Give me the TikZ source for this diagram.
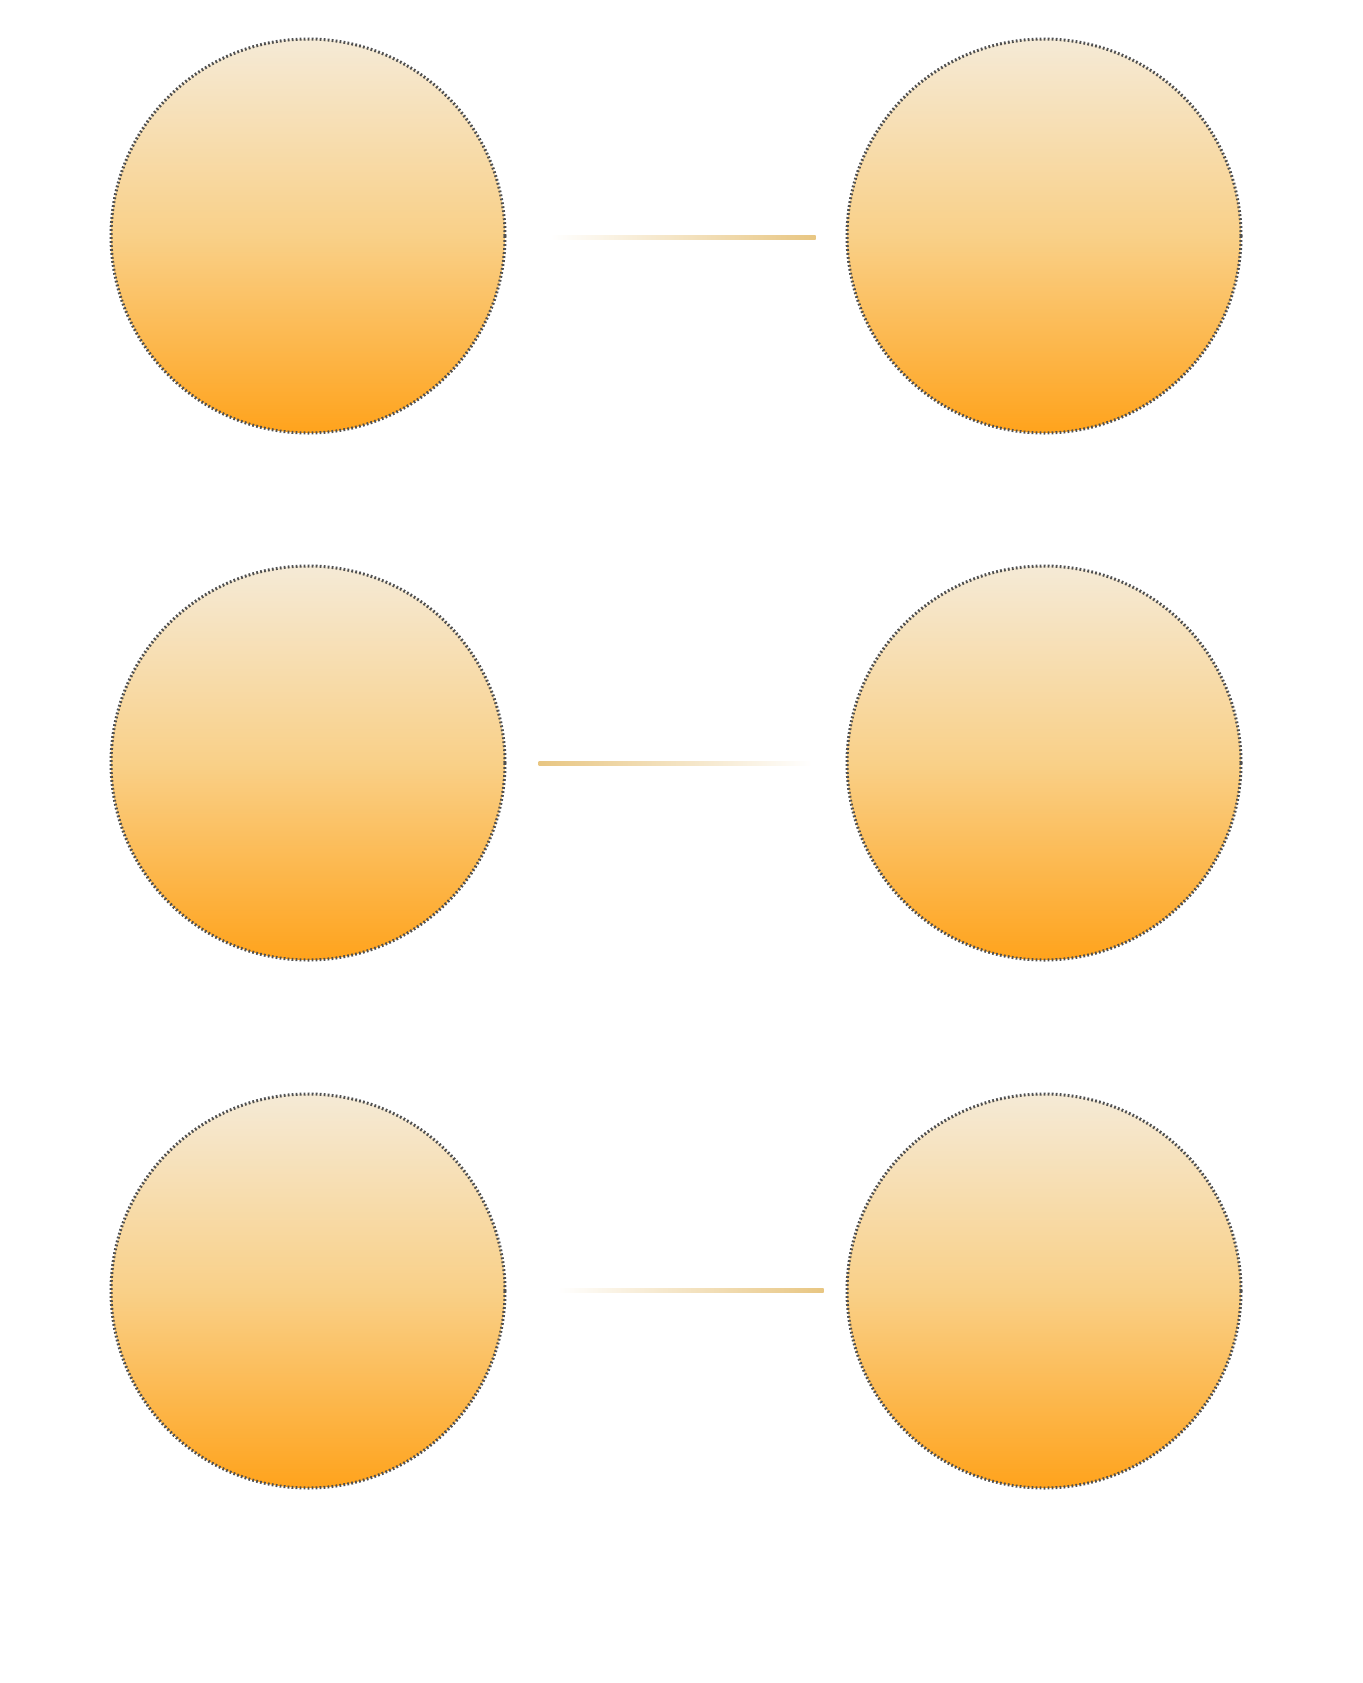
\documentclass[tikz,border=0pt]{standalone}
\usepackage{tikz}
\usetikzlibrary{calc,backgrounds}
\definecolor{ballTop}{RGB}{245,234,214}
\definecolor{ballMid}{RGB}{249,208,136}
\definecolor{ballBot}{RGB}{255,163,28}
\definecolor{ballRim}{RGB}{80,80,80}
\definecolor{linkGold}{RGB}{232,198,130}
\definecolor{glowCream}{RGB}{255,249,234}
\pgfdeclareradialshading{glowshade}{\pgfpoint{0bp}{0bp}}{color(0bp)=(glowCream); color(30bp)=(glowCream); color(50bp)=(white)}
\tikzset{
  ball/.style={circle,minimum size=197pt,inner sep=0pt,top color=ballTop,bottom color=ballBot,middle color=ballMid,draw=ballRim,line width=1.5pt,dash pattern=on 0.9pt off 1.1pt},
  glow/.style={shading=glowshade}
}
\begin{document}
\begin{tikzpicture}[x=0.5pt,y=-0.5pt]
    \useasboundingbox[fill=white] (0,0) rectangle (1363,1683);
    \node[ball] (l1) at (308,236) {};
    \node[ball] (r1) at (1044,236) {};
    \node[ball] (l2) at (308,763) {};
    \node[ball] (r2) at (1044,763) {};
    \node[ball] (l3) at (308,1291) {};
    \node[ball] (r3) at (1044,1291) {};
    \begin{pgfonlayer}{background}
        \foreach \b in {l1,r1,l2,r2,l3,r3}
            \shade[glow] ($(\b)+(0,75)$) circle (300);
    \end{pgfonlayer}
    \shade[left color=white,right color=linkGold] ($(l1.east)+(44,-0.2)$) rectangle ($(r1.west)+(-30,3.8)$);
    \shade[left color=linkGold,right color=white] ($(l2.east)+(32,-1.7)$) rectangle ($(r2.west)+(-34,2.3)$);
    \shade[left color=white,right color=linkGold] ($(l3.east)+(51,-3)$) rectangle ($(r3.west)+(-22,1)$);
\end{tikzpicture}
\end{document}
